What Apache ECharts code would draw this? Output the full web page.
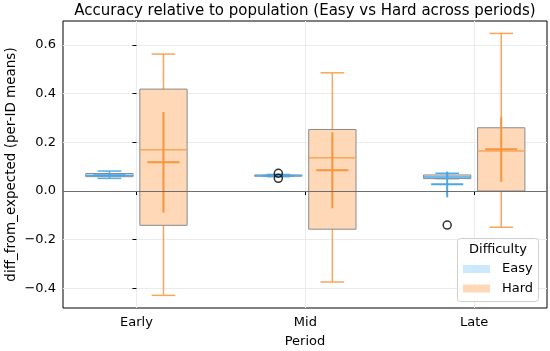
<!DOCTYPE html>
<html>
<head>
<meta charset="utf-8">
<script src="https://cdn.jsdelivr.net/npm/echarts@6/dist/echarts.min.js"></script>
<style>
html,body{margin:0;padding:0;background:#fff;}
#chart{width:550px;height:351px;}
</style>
</head>
<body>
<div id="chart"></div>
<script>
// ---- data ----
const periods = ['Early', 'Mid', 'Late'];
const yTicks = [-0.4, -0.2, 0.0, 0.2, 0.4, 0.6];

const easyWhiskerLow  = [0.052, 0.059, 0.051];
const easyQ1          = [0.059, 0.061, 0.051];
const easyMedian      = [0.064, 0.063, 0.058];
const easyQ3          = [0.072, 0.066, 0.066];
const easyWhiskerHigh = [0.082, 0.068, 0.073];
const easyMean        = [0.065, 0.063, 0.028];
const easyErrLow      = [0.060, 0.059, -0.026];
const easyErrHigh     = [0.071, 0.067, 0.080];
const easyOutlierPeriod = ['Mid', 'Mid', 'Late'];
const easyOutlierValue  = [0.073, 0.052, -0.140];

const hardWhiskerLow  = [-0.429, -0.374, -0.149];
const hardQ1          = [-0.141, -0.157, 0.000];
const hardMedian      = [0.170, 0.137, 0.164];
const hardQ3          = [0.419, 0.253, 0.260];
const hardWhiskerHigh = [0.563, 0.486, 0.648];
const hardMean        = [0.118, 0.085, 0.172];
const hardErrLow      = [-0.089, -0.071, 0.038];
const hardErrHigh     = [0.325, 0.241, 0.305];

// ---- layout / style constants ----
const OFFSET = 0.16, BOX_W = 0.28, CAP_W = 0.14, MEAN_W = 0.19;
const FONT = 'DejaVu Sans';
const EASY = {fill: '#cce8fc', line: '#52aeea', err: '#4aa6e6'};
const HARD = {fill: '#ffd8b7', line: '#f7a65c', err: '#f5953e'};
const EDGE = '#8a8a8a';

function buildItems(off, wl, q1, med, q3, wh, elo, mean, ehi) {
  return periods.map((p, i) => [i + off, wl[i], q1[i], med[i], q3[i], wh[i], elo[i], mean[i], ehi[i]]);
}
const easyData = buildItems(-OFFSET, easyWhiskerLow, easyQ1, easyMedian, easyQ3, easyWhiskerHigh, easyErrLow, easyMean, easyErrHigh);
const hardData = buildItems(OFFSET, hardWhiskerLow, hardQ1, hardMedian, hardQ3, hardWhiskerHigh, hardErrLow, hardMean, hardErrHigh);
const outlierData = easyOutlierPeriod.map((p, i) => [periods.indexOf(p) - OFFSET, easyOutlierValue[i]]);

function makeRender(col) {
  return function (params, api) {
    const x = api.value(0);
    const unit = api.size([1, 0])[0];
    const px = api.coord([x, 0])[0];
    const Y = v => api.coord([x, v])[1];
    const bw = BOX_W * unit / 2, cw = CAP_W * unit / 2, mw = MEAN_W * unit / 2;
    const wl = Y(api.value(1)), q1 = Y(api.value(2)), md = Y(api.value(3)),
          q3 = Y(api.value(4)), wh = Y(api.value(5)), el = Y(api.value(6)),
          mn = Y(api.value(7)), eh = Y(api.value(8));
    const ln = (x1, y1, x2, y2, stroke, w) => ({
      type: 'line', shape: {x1, y1, x2, y2}, style: {stroke, lineWidth: w}
    });
    return {
      type: 'group',
      children: [
        ln(px, wl, px, q1, col.line, 1.5),
        ln(px, q3, px, wh, col.line, 1.5),
        ln(px - cw, wl, px + cw, wl, col.line, 1.5),
        ln(px - cw, wh, px + cw, wh, col.line, 1.5),
        {type: 'rect', shape: {x: px - bw, y: q3, width: 2 * bw, height: Math.max(q1 - q3, 1)},
         style: {fill: col.fill, stroke: EDGE, lineWidth: 1}},
        ln(px - bw, md, px + bw, md, col.line, 1.5),
        ln(px, eh, px, el, col.err, 2),
        ln(px - mw, mn, px + mw, mn, col.err, 2)
      ]
    };
  };
}

const fmtY = v => (Math.abs(v) < 1e-9 ? '0.0' : v.toFixed(1).replace('-', '\u2212'));

const chart = echarts.init(document.getElementById('chart'), null, {renderer: 'canvas'});
chart.setOption({
  animation: false,
  backgroundColor: '#fff',
  textStyle: {fontFamily: FONT},
  grid: {left: 63, right: 3, top: 21, bottom: 43, outerBoundsMode: 'none', containLabel: false,
    show: true, borderColor: '#000', borderWidth: 1, backgroundColor: 'transparent'},
  graphic: [
    {type: 'text', x: 305, y: 11, style: {text: 'Accuracy relative to population (Easy vs Hard across periods)',
      font: '15px ' + FONT, fill: '#000', textAlign: 'center', textVerticalAlign: 'middle'}},
    {type: 'rect', x: 457.5, y: 238.5, shape: {width: 81, height: 63, r: 3},
      style: {fill: 'rgba(255,255,255,0.8)', stroke: '#d0d0d0', lineWidth: 1}, z: 100},
    {type: 'text', x: 498, y: 250, style: {text: 'Difficulty', font: '13px ' + FONT, fill: '#000',
      textAlign: 'center', textVerticalAlign: 'middle'}, z: 101}
  ],
  legend: {
    data: ['Easy', 'Hard'],
    orient: 'vertical',
    left: 463, top: 262,
    padding: 0,
    itemWidth: 27, itemHeight: 8, itemGap: 5.5,
    icon: 'rect',
    z: 102,
    itemStyle: {borderWidth: 0},
    textStyle: {fontFamily: FONT, fontSize: 13, color: '#000', lineHeight: 14, padding: [0, 0, 0, 7]}
  },
  xAxis: {
    type: 'value', min: -0.435, max: 2.431,
    name: 'Period', nameLocation: 'middle', nameGap: 27, nameMoveOverlap: false,
    nameTextStyle: {fontFamily: FONT, fontSize: 13, color: '#000'},
    axisLine: {show: false},
    axisTick: {show: true, customValues: [0, 1, 2], length: 4, lineStyle: {color: '#000'}},
    axisLabel: {customValues: [0, 1, 2], formatter: v => periods[Math.round(v)], fontFamily: FONT, fontSize: 13, color: '#000', margin: 8},
    splitLine: {show: true, lineStyle: {color: '#ebebeb', width: 1}}
  },
  yAxis: {
    type: 'value', min: -0.481, max: 0.699,
    name: 'diff_from_expected (per-ID means)', nameLocation: 'middle', nameGap: 45, nameMoveOverlap: false,
    nameTextStyle: {fontFamily: FONT, fontSize: 13.5, color: '#000'},
    axisLine: {show: false},
    axisTick: {show: true, customValues: yTicks, length: 4, lineStyle: {color: '#000'}},
    axisLabel: {customValues: yTicks, formatter: fmtY, fontFamily: FONT, fontSize: 13, color: '#000', margin: 7},
    splitLine: {show: true, lineStyle: {color: '#ebebeb', width: 1}}
  },
  series: [
    {
      name: 'Easy', type: 'custom', renderItem: makeRender(EASY),
      itemStyle: {color: EASY.fill},
      encode: {x: 0, y: [1, 2, 3, 4, 5, 6, 7, 8]},
      data: easyData, z: 3
    },
    {
      name: 'Hard', type: 'custom', renderItem: makeRender(HARD),
      itemStyle: {color: HARD.fill},
      encode: {x: 0, y: [1, 2, 3, 4, 5, 6, 7, 8]},
      data: hardData, z: 3,
      markLine: {silent: true, symbol: 'none', label: {show: false},
        lineStyle: {color: '#6e6e6e', width: 1.2, type: 'solid'}, data: [{yAxis: 0}], z: 5}
    },
    {
      name: 'outliers', type: 'scatter', data: outlierData, symbol: 'circle', symbolSize: 8,
      itemStyle: {color: 'rgba(0,0,0,0)', borderColor: '#000', borderWidth: 1.5}, z: 6
    }
  ]
});
</script>
</body>
</html>
